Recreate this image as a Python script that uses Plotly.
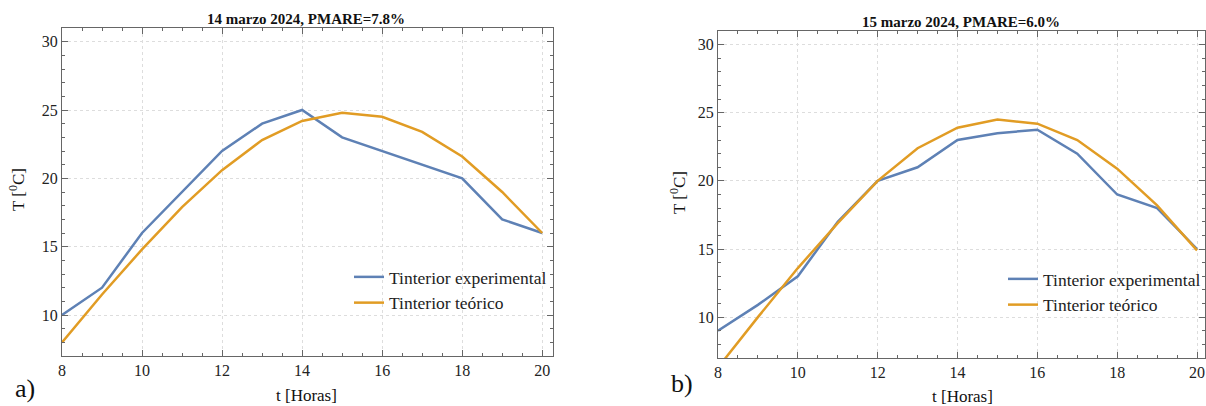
import plotly.graph_objects as go

horas = [8, 9, 10, 11, 12, 13, 14, 15, 16, 17, 18, 19, 20]

# 14 marzo 2024
exp_14 = [10.0, 12.0, 16.0, 19.0, 22.0, 24.0, 25.0, 23.0, 22.0, 21.0, 20.0, 17.0, 16.0]
teo_14 = [8.0, 11.5, 14.8, 17.9, 20.6, 22.8, 24.2, 24.8, 24.5, 23.4, 21.6, 19.0, 16.0]

# 15 marzo 2024
exp_15 = [9.0, 10.9, 13.0, 17.0, 20.0, 21.0, 23.0, 23.5, 23.75, 22.0, 19.0, 18.0, 15.0]
teo_15 = [6.3, 10.0, 13.6, 16.9, 20.0, 22.4, 23.9, 24.5, 24.2, 23.0, 20.9, 18.2, 14.9]

titles = ["14 marzo 2024, PMARE=7.8%", "15 marzo 2024, PMARE=6.0%"]
names = ["Tinterior experimental", "Tinterior teórico"]
x_ticks = [8, 10, 12, 14, 16, 18, 20]
y_ticks = [10, 15, 20, 25, 30]

BLUE = "#5E81B5"
ORANGE = "#E19C24"
FONT = "Liberation Serif"
W, H = 1206, 406

def px_x(p):
    return p / W

def px_y(p):
    return 1 - p / H

fig = go.Figure()

panels = [
    dict(exp=exp_14, teo=teo_14, xa="x", ya="y", legend="legend",
         dom_x=(62, 553), dom_y=(28, 356), xr=[8, 20.27]),
    dict(exp=exp_15, teo=teo_15, xa="x2", ya="y2", legend="legend2",
         dom_x=(718, 1205), dom_y=(31, 358), xr=[8, 20.2]),
]

for p in panels:
    fig.add_trace(go.Scatter(x=horas, y=p["exp"], mode="lines", name=names[0],
                             line=dict(color=BLUE, width=2.5),
                             xaxis=p["xa"], yaxis=p["ya"], legend=p["legend"]))
    fig.add_trace(go.Scatter(x=horas, y=p["teo"], mode="lines", name=names[1],
                             line=dict(color=ORANGE, width=2.5),
                             xaxis=p["xa"], yaxis=p["ya"], legend=p["legend"]))

axis_common = dict(
    showline=True, linecolor="#666666", linewidth=1, mirror="allticks",
    ticks="inside", ticklen=6, tickcolor="#666666", tickwidth=1,
    showgrid=True, gridcolor="#dddddd", griddash="dot", gridwidth=1,
    zeroline=False, automargin=False,
    tickfont=dict(family=FONT, size=16, color="#222222"),
)

layout = dict(
    width=W, height=H,
    margin=dict(l=0, r=0, t=0, b=0, autoexpand=False),
    paper_bgcolor="white", plot_bgcolor="white",
    showlegend=True,
)

for i, p in enumerate(panels):
    sfx = "" if i == 0 else "2"
    layout["xaxis" + sfx] = dict(
        axis_common,
        domain=[px_x(p["dom_x"][0]), px_x(p["dom_x"][1])],
        range=p["xr"], tickvals=x_ticks,
        minor=dict(ticks="inside", dtick=0.5, ticklen=3, tickcolor="#666666", showgrid=False),
        anchor="y" + sfx,
    )
    layout["yaxis" + sfx] = dict(
        axis_common,
        domain=[px_y(p["dom_y"][1]), px_y(p["dom_y"][0])],
        range=[7, 31], tickvals=y_ticks,
        minor=dict(ticks="inside", dtick=1, ticklen=3, tickcolor="#666666", showgrid=False),
        anchor="x" + sfx,
    )

leg_common = dict(
    font=dict(family=FONT, size=17.5, color="#222222"),
    bgcolor="rgba(0,0,0,0)", borderwidth=0,
    xanchor="left", yanchor="top", itemwidth=30, tracegroupgap=0,
)
layout["legend"] = dict(leg_common, x=px_x(349), y=px_y(259))
layout["legend2"] = dict(leg_common, x=px_x(1003), y=px_y(261))

fig.update_layout(**layout)

annots = [
    (titles[0], 306, 19, 15, True, 0),
    (titles[1], 961, 22, 15, True, 0),
    ("t [Horas]", 306, 395, 17, False, 0),
    ("t [Horas]", 962, 396, 17, False, 0),
    ("T [<sup>0</sup>C]", 17, 190, 17, False, -90),
    ("T [<sup>0</sup>C]", 678, 193, 17, False, -90),
    ("a)", 25, 388, 26, False, 0),
    ("b)", 682, 383, 26, False, 0),
]
for text, x, y, size, bold, ang in annots:
    fig.add_annotation(
        text=("<b>%s</b>" % text) if bold else text,
        x=px_x(x), y=px_y(y), xref="paper", yref="paper",
        xanchor="center", yanchor="middle", showarrow=False, textangle=ang,
        font=dict(family=FONT, size=size, color="#111111"),
    )

fig.write_html("out.html", config={"displayModeBar": False},
               post_script="document.body.style.margin='0';")
